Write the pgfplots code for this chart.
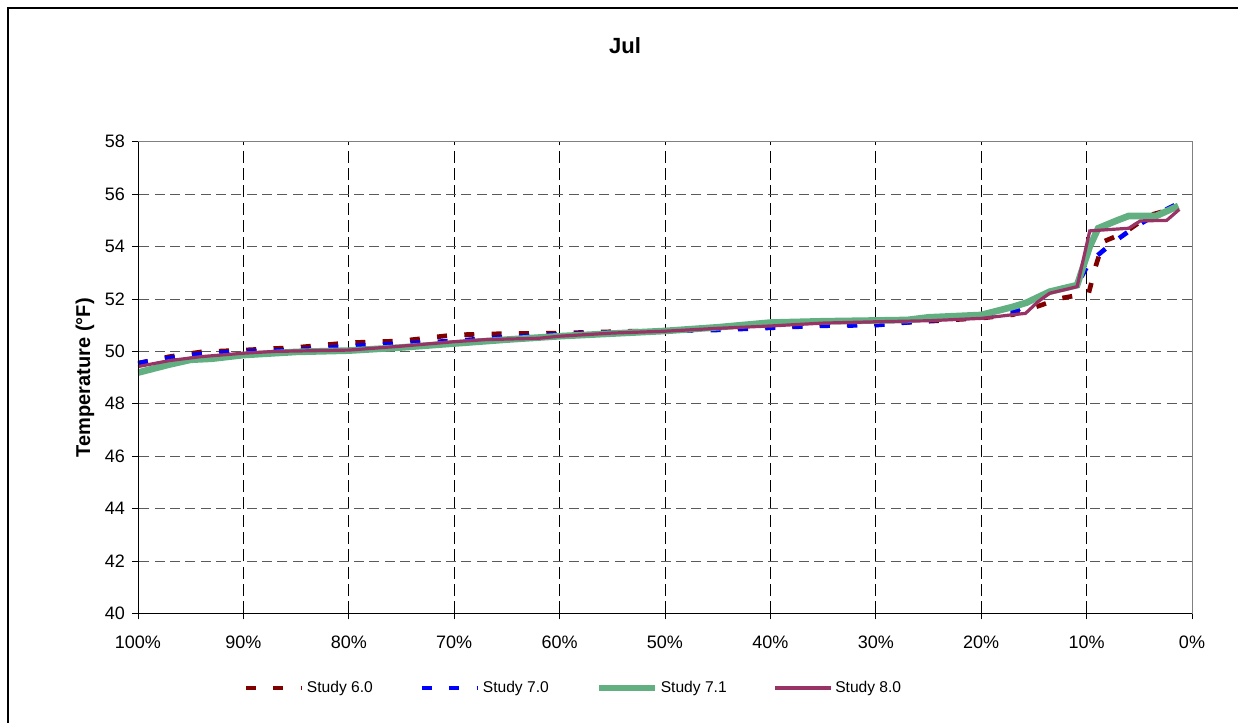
\documentclass[border=0pt]{standalone}
\usepackage{fontspec}
\setmainfont{Liberation Sans}
\usepackage{pgfplots}
\pgfplotsset{compat=1.18}
\definecolor{sredA}{RGB}{128,0,0}
\definecolor{sblue}{RGB}{0,0,255}
\definecolor{sgreen}{RGB}{98,176,130}
\definecolor{spurple}{RGB}{153,51,102}
\definecolor{gridgray}{RGB}{90,90,90}
\begin{document}
\begin{tikzpicture}
\useasboundingbox (0pt,0pt) rectangle (928.5pt,542.25pt);
\draw[line width=0.8pt] (6pt,-2pt) -- (6pt,536.25pt) -- (930pt,536.25pt);
\node[font=\fontsize{16.5}{19}\selectfont\bfseries] at (468.75pt,508.1pt) {Jul};
\node[font=\fontsize{15}{18}\selectfont\bfseries, rotate=90] at (63.75pt,259pt) {Temperature (°F)};
\begin{axis}[
  at={(103.5pt,82.2pt)}, anchor=south west,
  scale only axis, width=790.5pt, height=353.7pt,
  x dir=reverse,
  xmin=0, xmax=100, ymin=40, ymax=58,
  xtick={0,10,...,100}, ytick={40,42,...,58},
  xticklabel={\pgfmathprintnumber{\tick}\%},
  /pgf/number format/assume math mode=true,
  tick label style={font=\fontsize{13.5}{16}\selectfont},
  xticklabel style={yshift=-8.5pt},
  yticklabel style={xshift=-1.75pt},
  tick align=outside, major tick length=4.5pt,
  tick style={black, line width=0.6pt},
  xtick pos=bottom, ytick pos=left,
  axis line style={draw=gray, line width=0.6pt},
  xmajorgrids, ymajorgrids,
  x grid style={black, line width=0.6pt, dash pattern=on 9pt off 4pt},
  y grid style={gridgray, line width=0.6pt, dash pattern=on 7.5pt off 4pt},
  legend columns=4,
  legend style={draw=none, fill=none, at={(0.1, -0.158)}, anchor=west, inner sep=0pt,
    font=\fontsize{11.7}{14}\selectfont,
    /tikz/every even column/.append style={column sep=33pt}},
  legend image code/.code={\draw[#1] (0pt,0pt) -- (42pt,0pt);},
  legend cell align=left,
]
\addplot[sredA, line width=3.5pt, line cap=butt, dash pattern=on 7.5pt off 13pt] coordinates {
(100,49.55) (97,49.8) (94,49.98) (90,50.05) (85,50.15) (80,50.33) (75,50.4) (70,50.63)
(65,50.68) (60,50.7) (55,50.75) (50,50.8) (45,50.88) (40,50.93) (35,51.0) (30,51.05)
(25,51.15) (20,51.27) (17,51.4) (14.8,51.7) (12.4,52.03) (9.8,52.22) (9.2,53.17)
(8.4,54.19) (6.4,54.53) (4.0,55.2) (1.3,55.5)};
\addlegendentry{Study 6.0}
\addplot[sblue, line width=3.5pt, line cap=butt, dash pattern=on 7.5pt off 13pt] coordinates {
(100,49.55) (97,49.75) (94,49.9) (90,50.0) (85,50.05) (80,50.2) (75,50.3) (70,50.4)
(65,50.55) (60,50.65) (55,50.72) (50,50.78) (45,50.82) (40,50.9) (35,50.98) (30,51.0)
(25,51.18) (20,51.3) (17,51.5) (15.7,51.75) (13.5,52.3) (10.9,52.55) (9.7,53.42)
(7.6,54.12) (5.6,54.7) (3.5,55.2) (1.3,55.65)};
\addlegendentry{Study 7.0}
\addplot[sgreen, line width=5pt] coordinates {
(100,49.19) (97,49.5) (95,49.68) (93,49.72) (90,49.86) (85,49.98) (80,50.03) (75,50.15)
(70,50.3) (65,50.45) (60,50.58) (55,50.68) (50,50.78) (45,50.92) (40,51.1) (35,51.15)
(30,51.18) (27,51.2) (25,51.3) (20,51.39) (17,51.7) (15.7,51.86) (13.5,52.28) (10.9,52.53)
(9.7,54.0) (8.9,54.7) (7.1,55.0) (6.0,55.17) (3.4,55.17) (1.3,55.55)};
\addlegendentry{Study 7.1}
\addplot[spurple, line width=2.4pt] coordinates {
(100,49.42) (97,49.65) (94,49.8) (90,49.93) (87,50.0) (80,50.05) (75,50.2) (70,50.37)
(67,50.45) (62,50.5) (60,50.58) (55,50.7) (50,50.77) (45,50.88) (40,50.97) (35,51.08)
(30,51.13) (25,51.17) (20,51.26) (17,51.4) (15.8,51.45) (14.6,51.9) (13.5,52.22)
(10.9,52.47) (9.7,54.6) (6.0,54.7) (4.9,54.98) (2.4,55.0) (1.2,55.42)};
\addlegendentry{Study 8.0}
\draw[black, line width=0.6pt] (axis cs:100,40) -- (axis cs:100,58);
\draw[black, line width=0.6pt] (axis cs:100,40) -- (axis cs:0,40);
\end{axis}
\end{tikzpicture}
\end{document}
